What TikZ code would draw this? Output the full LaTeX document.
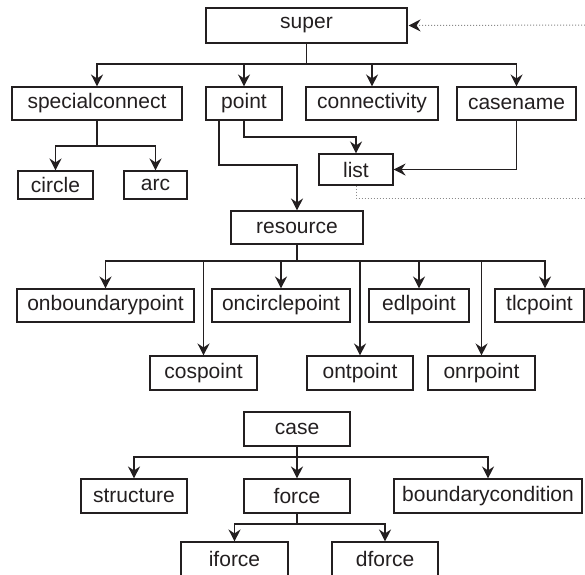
\documentclass[tikz,border=0pt]{standalone}
\usepackage{fontspec}
\setmainfont{Liberation Sans}
\usetikzlibrary{arrows.meta}
\definecolor{ink}{HTML}{231F20}
\definecolor{dots}{HTML}{8A8A8A}
\tikzset{
  box/.style={draw=ink, line width=1.1pt, rectangle, inner sep=0pt,
    font=\fontsize{21}{21}\selectfont, text=ink},
  link/.style={draw=ink, line width=1.3pt,
    -{Stealth[length=12pt,width=12pt,inset=4pt]}},
  plain/.style={draw=ink, line width=1.3pt},
  ref/.style={draw=dots, line width=1pt, dotted},
  reflink/.style={ref, -{Stealth[length=12pt,width=12pt,inset=4pt,color=ink]}}
}
\newcommand{\bx}[6]{\node[box, minimum width=#4pt, minimum height=#5pt] (#1) at (#2,#3) {#6};}
\begin{document}
\begin{tikzpicture}[x=1pt,y=-1pt]
\clip (0,0) rectangle (585,574);
\fill[white] (0,0) rectangle (585,574);

% nodes
\bx{super}{306.5}{25.5}{201}{35}{super}
\bx{sc}{97}{103.5}{170}{33}{specialconnect}
\bx{point}{244}{103.5}{76}{33}{point}
\bx{conn}{372}{103.5}{132}{33}{connectivity}
\bx{cname}{516.5}{103.5}{119}{33}{casename}
\bx{circle}{55.5}{185}{75}{28}{circle}
\bx{arc}{155.5}{185}{63}{28}{arc}
\bx{list}{356}{169.5}{74}{31}{list}
\bx{res}{297}{227.5}{132}{33}{resource}
\bx{obp}{105.5}{305.5}{177}{33}{onboundarypoint}
\bx{ocp}{281}{305.5}{138}{33}{oncirclepoint}
\bx{edl}{419}{305.5}{100}{33}{edlpoint}
\bx{tlc}{539.5}{305.5}{89}{33}{tlcpoint}
\bx{cos}{203.5}{373}{107}{34}{cospoint}
\bx{ont}{360}{373}{106}{34}{ontpoint}
\bx{onr}{481.5}{373}{107}{34}{onrpoint}
\bx{case}{297}{429}{106}{34}{case}
\bx{struct}{134}{496}{106}{34}{structure}
\bx{force}{297}{496}{106}{34}{force}
\bx{bc}{488}{496}{188}{34}{boundarycondition}
\bx{iforce}{234.5}{559}{107}{34}{iforce}
\bx{dforce}{385}{559}{106}{34}{dforce}

% free ends of the dotted reference lines
\coordinate (outTop) at (585,25);
\coordinate (outMid) at (585,198);

% super -> first row
\coordinate (busA) at (306.5,64);
\draw[plain] (super.south) -- (busA);
\foreach \n in {sc,point,conn,cname}
  \draw[link] (busA) -| (\n.north);

% specialconnect -> circle, arc
\coordinate (busB) at (97,146);
\draw[plain] (sc.south) -- (busB);
\foreach \n in {circle,arc}
  \draw[link] (busB) -| (\n.north);

% point -> list, point -> resource
\draw[link] ([xshift=-25pt]point.south) |- (297,165) -- (res.north);
\draw[link] (point.south) |- (356,137) -- (list.north);

% casename -> list
\draw[link] (cname.south) |- (list.east);

% dotted references
\draw[ref] (list.south) |- (outMid);
\draw[reflink] (outTop) -- ([xshift=1pt]super.east);

% resource -> children
\coordinate (busC) at (297,261);
\draw[plain] (res.south) -- (busC);
\foreach \n in {obp,ocp,edl}
  \draw[link] (busC) -| (\n.north);
\draw[link] (busC) -| ([xshift=5.5pt]tlc.north);
\foreach \n in {cos,ont,onr}
  \draw[link] (busC) -| (\n.north);

% case -> children
\coordinate (busD) at (297,457);
\draw[plain] (case.south) -- (busD);
\foreach \n in {struct,force,bc}
  \draw[link] (busD) -| (\n.north);

% force -> iforce, dforce
\coordinate (busE) at (297,524);
\draw[plain] (force.south) -- (busE);
\foreach \n in {iforce,dforce}
  \draw[link] (busE) -| (\n.north);
\end{tikzpicture}
\end{document}
